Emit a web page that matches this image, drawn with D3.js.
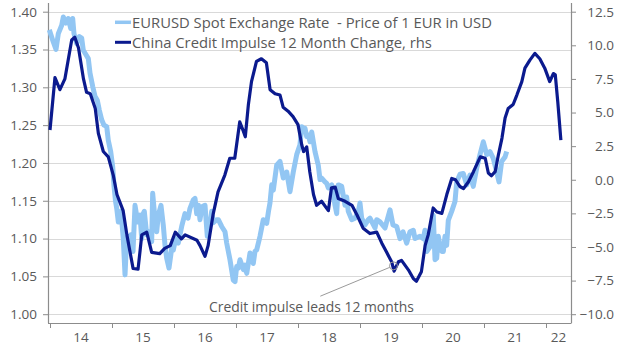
<!DOCTYPE html>
<html>
<head>
<meta charset="utf-8">
<script src="https://cdn.jsdelivr.net/npm/d3@7"></script>
<style>
  html, body { margin: 0; padding: 0; background: #ffffff; }
  svg { display: block; }
  text { font-family: "Open Sans", "Noto Sans", sans-serif; fill: #595959; white-space: pre; }
</style>
</head>
<body>
<svg id="chart" width="620" height="351"></svg>
<script>
// ---------------- DATA ----------------
const seriesNames = ["EURUSD Spot Exchange Rate  - Price of 1 EUR in USD", "China Credit Impulse 12 Month Change, rhs"];

const leftTicks = [1.00, 1.05, 1.10, 1.15, 1.20, 1.25, 1.30, 1.35, 1.40];
const rightTicks = [-10.0, -7.5, -5.0, -2.5, 0.0, 2.5, 5.0, 7.5, 10.0, 12.5];
const yearTicks = [2014, 2015, 2016, 2017, 2018, 2019, 2020, 2021, 2022];
const yearLabels = ["14", "15", "16", "17", "18", "19", "20", "21", "22"];

// EURUSD spot (left axis), decimal years
const eurDates = [
  2013.989, 2014.053, 2014.097, 2014.134, 2014.189, 2014.215, 2014.258, 2014.295, 2014.334, 2014.366,
  2014.387, 2014.431, 2014.473, 2014.511, 2014.537, 2014.581, 2014.618, 2014.645, 2014.689, 2014.726,
  2014.763, 2014.795, 2014.834, 2014.871, 2014.915, 2014.940, 2014.979, 2015.011, 2015.032, 2015.056,
  2015.076, 2015.102, 2015.129, 2015.145, 2015.182, 2015.210, 2015.237, 2015.263, 2015.282, 2015.306,
  2015.339, 2015.371, 2015.415, 2015.452, 2015.479, 2015.505, 2015.521, 2015.560, 2015.597, 2015.640,
  2015.656, 2015.682, 2015.721, 2015.747, 2015.790, 2015.827, 2015.855, 2015.882, 2015.919, 2015.963,
  2015.989, 2016.027, 2016.069, 2016.124, 2016.177, 2016.226, 2016.258, 2016.311, 2016.339, 2016.366,
  2016.395, 2016.419, 2016.452, 2016.500, 2016.537, 2016.581, 2016.608, 2016.634, 2016.689, 2016.715,
  2016.769, 2016.823, 2016.850, 2016.903, 2016.956, 2016.984, 2017.011, 2017.037, 2017.065, 2017.118,
  2017.145, 2017.173, 2017.226, 2017.279, 2017.306, 2017.334, 2017.387, 2017.440, 2017.495, 2017.524,
  2017.548, 2017.576, 2017.602, 2017.656, 2017.710, 2017.763, 2017.818, 2017.871, 2017.924, 2017.979,
  2018.032, 2018.060, 2018.085, 2018.113, 2018.140, 2018.166, 2018.194, 2018.221, 2018.274, 2018.327,
  2018.355, 2018.382, 2018.435, 2018.463, 2018.489, 2018.544, 2018.569, 2018.597, 2018.624, 2018.650,
  2018.705, 2018.758, 2018.785, 2018.811, 2018.866, 2018.919, 2018.973, 2019.000, 2019.027, 2019.081,
  2019.134, 2019.161, 2019.242, 2019.269, 2019.323, 2019.403, 2019.484, 2019.532, 2019.592, 2019.645,
  2019.694, 2019.753, 2019.806, 2019.860, 2019.887, 2019.968, 2020.021, 2020.048, 2020.076, 2020.129,
  2020.182, 2020.210, 2020.237, 2020.263, 2020.290, 2020.318, 2020.344, 2020.371, 2020.398, 2020.424,
  2020.479, 2020.532, 2020.560, 2020.613, 2020.666, 2020.721, 2020.774, 2020.827, 2020.882, 2020.935,
  2020.989, 2021.044, 2021.097, 2021.150, 2021.205, 2021.242, 2021.285, 2021.339, 2021.366
];
const eurValues = [
  1.376, 1.360, 1.350, 1.371, 1.382, 1.393, 1.385, 1.391, 1.378, 1.391,
  1.371, 1.358, 1.367, 1.365, 1.349, 1.343, 1.338, 1.319, 1.301, 1.288,
  1.283, 1.270, 1.257, 1.250, 1.248, 1.230, 1.215, 1.195, 1.170, 1.150,
  1.140, 1.122, 1.127, 1.136, 1.100, 1.052, 1.100, 1.103, 1.087, 1.105,
  1.083, 1.144, 1.122, 1.131, 1.100, 1.133, 1.136, 1.105, 1.109, 1.096,
  1.160, 1.136, 1.109, 1.131, 1.144, 1.118, 1.091, 1.074, 1.061, 1.087,
  1.085, 1.100, 1.094, 1.116, 1.133, 1.127, 1.140, 1.151, 1.153, 1.133,
  1.144, 1.125, 1.142, 1.144, 1.103, 1.118, 1.136, 1.121, 1.125, 1.125,
  1.116, 1.109, 1.094, 1.072, 1.045, 1.043, 1.063, 1.061, 1.072, 1.059,
  1.065, 1.054, 1.081, 1.067, 1.083, 1.085, 1.103, 1.125, 1.120, 1.136,
  1.147, 1.171, 1.164, 1.197, 1.202, 1.180, 1.188, 1.162, 1.188, 1.211,
  1.224, 1.248, 1.246, 1.246, 1.235, 1.237, 1.228, 1.241, 1.215, 1.197,
  1.178, 1.180, 1.175, 1.173, 1.167, 1.171, 1.160, 1.144, 1.133, 1.171,
  1.169, 1.144, 1.155, 1.136, 1.125, 1.127, 1.136, 1.147, 1.127, 1.118,
  1.125, 1.127, 1.114, 1.125, 1.122, 1.114, 1.138, 1.118, 1.116, 1.100,
  1.109, 1.094, 1.109, 1.111, 1.100, 1.103, 1.100, 1.111, 1.083, 1.089,
  1.131, 1.072, 1.074, 1.103, 1.091, 1.083, 1.083, 1.103, 1.091, 1.124,
  1.136, 1.149, 1.175, 1.185, 1.186, 1.171, 1.184, 1.169, 1.193, 1.211,
  1.228, 1.211, 1.215, 1.206, 1.188, 1.175, 1.202, 1.208, 1.215
];

// China credit impulse 12m change (right axis), shifted forward 12 months
const ciDates = [
  2014.00, 2014.08, 2014.16, 2014.24, 2014.35, 2014.40, 2014.46, 2014.54, 2014.59, 2014.65,
  2014.73, 2014.78, 2014.86, 2014.94, 2015.02, 2015.08, 2015.18, 2015.24, 2015.31, 2015.34,
  2015.42, 2015.45, 2015.48, 2015.56, 2015.64, 2015.77, 2015.85, 2015.94, 2016.02, 2016.12,
  2016.18, 2016.37, 2016.42, 2016.50, 2016.55, 2016.63, 2016.71, 2016.82, 2016.90, 2016.98,
  2017.06, 2017.12, 2017.15, 2017.20, 2017.25, 2017.33, 2017.41, 2017.49, 2017.55, 2017.63,
  2017.71, 2017.76, 2017.84, 2017.92, 2018.00, 2018.06, 2018.09, 2018.14, 2018.19, 2018.25,
  2018.30, 2018.38, 2018.49, 2018.54, 2018.60, 2018.65, 2018.76, 2018.87, 2018.95, 2019.05,
  2019.16, 2019.27, 2019.35, 2019.43, 2019.51, 2019.55, 2019.62, 2019.67, 2019.78, 2019.86,
  2019.91, 2019.99, 2020.05, 2020.10, 2020.18, 2020.24, 2020.32, 2020.40, 2020.48, 2020.54,
  2020.61, 2020.67, 2020.75, 2020.83, 2020.94, 2021.02, 2021.07, 2021.12, 2021.18, 2021.23,
  2021.29, 2021.34, 2021.39, 2021.47, 2021.53, 2021.61, 2021.66, 2021.74, 2021.82, 2021.90,
  2021.98, 2022.06, 2022.12, 2022.15, 2022.19, 2022.24
];
const ciValues = [
  3.7, 7.6, 6.7, 7.5, 10.4, 10.6, 9.8, 7.5, 6.5, 6.4,
  5.3, 3.45, 2.1, 1.7, 0.35, -1.1, -2.3, -4.1, -5.85, -6.6,
  -6.65, -5.4, -4.1, -3.9, -5.4, -5.5, -5.1, -4.9, -3.9, -4.4,
  -4.1, -4.5, -4.9, -5.7, -4.9, -2.6, -0.9, 0.35, 1.6, 1.6,
  4.3, 3.6, 3.2, 5.6, 7.3, 8.8, 9.0, 8.7, 6.7, 6.4,
  6.3, 5.4, 5.1, 4.7, 4.1, 2.6, 2.1, 2.45, 0.6, -1.1,
  -1.9, -1.6, -2.3, -0.6, -0.55, -1.4, -1.6, -1.9, -2.6, -3.6,
  -4.0, -3.9, -4.7, -5.4, -6.1, -6.8, -6.1, -6.0, -6.7, -7.35,
  -7.55, -6.85, -4.9, -4.1, -2.1, -2.4, -2.5, -1.1, 0.1, 0.0,
  -0.5, -0.65, -0.15, 0.6, 1.7, 1.6, 0.5, 0.3, 0.6, 1.8,
  3.1, 4.6, 5.3, 5.6, 6.3, 7.3, 8.3, 8.9, 9.4, 9.0,
  8.3, 7.3, 7.9, 7.8, 5.8, 2.95
];

// annotation
const annText = "Credit impulse leads 12 months";
const annPoint = [2019.54, -6.4];      // circled point (date, rhs value)
const annLineStart = [2018.36, -8.66]; // leader line end near label (date, rhs value)

// ---------------- CHART ----------------
const svg = d3.select("#chart");
const W = 620, H = 351;
svg.append("rect").attr("width", W).attr("height", H).attr("fill", "#ffffff");

const plotLeft = 48, plotRight = 571, plotTop = 3, plotBottom = 323;

const x = d3.scaleLinear().domain([2014, 2022]).range([50, 546]);
const yL = d3.scaleLinear().domain([1.00, 1.40]).range([314.2, 11.7]);
const yR = d3.scaleLinear().domain([-10, 12.5]).range([314.2, 11.7]);

// gridlines (left axis)
svg.append("g").selectAll("line").data(leftTicks).join("line")
  .attr("x1", plotLeft).attr("x2", plotRight)
  .attr("y1", d => Math.round(yL(d)) + 0.5).attr("y2", d => Math.round(yL(d)) + 0.5)
  .attr("stroke", "#d9d9d9").attr("stroke-width", 1);

const axisColor = "#8c8c8c";

// left axis
const gL = svg.append("g").attr("transform", `translate(${plotLeft},0)`)
  .call(d3.axisLeft(yL).tickValues(leftTicks).tickSize(5).tickPadding(6).tickFormat(d3.format(".2f")));
gL.select(".domain").remove();
gL.selectAll(".tick line").attr("stroke", axisColor);
gL.selectAll(".tick text").style("font-size", "13.5px").attr("fill", "#595959")
  .style("font-family", '"Open Sans", sans-serif');

// right axis
const gR = svg.append("g").attr("transform", `translate(${plotRight},0)`)
  .call(d3.axisRight(yR).tickValues(rightTicks).tickSize(5).tickPadding(5).tickFormat(d3.format(".1f")));
gR.select(".domain").remove();
gR.selectAll(".tick line").attr("stroke", axisColor);
gR.selectAll(".tick text").style("font-size", "13.5px").attr("fill", "#595959")
  .style("font-family", '"Open Sans", sans-serif')
  .attr("text-anchor", "end").attr("x", 43);

// bottom axis: ticks at year boundaries
const gB = svg.append("g").attr("transform", `translate(0,${plotBottom})`)
  .call(d3.axisBottom(x).tickValues(yearTicks).tickSize(5).tickFormat(""));
gB.select(".domain").remove();
gB.selectAll(".tick line").attr("stroke", axisColor);

// bottom axis labels centered in each year (last one centered in visible part)
const xEnd = x.invert(plotRight);
svg.append("g").selectAll("text").data(yearTicks).join("text")
  .attr("x", (d, i) => x(i === yearTicks.length - 1 ? (d + xEnd) / 2 : d + 0.5))
  .attr("y", 342)
  .attr("text-anchor", "middle")
  .style("font-size", "13.5px")
  .text((d, i) => yearLabels[i]);

// axis lines
svg.append("line").attr("x1", plotLeft + 0.5).attr("x2", plotLeft + 0.5).attr("y1", plotTop).attr("y2", plotBottom)
  .attr("stroke", axisColor).attr("stroke-width", 1.2);
svg.append("line").attr("x1", plotRight + 0.5).attr("x2", plotRight + 0.5).attr("y1", plotTop).attr("y2", plotBottom)
  .attr("stroke", axisColor).attr("stroke-width", 1.2);
svg.append("line").attr("x1", plotLeft).attr("x2", plotRight + 0.5).attr("y1", plotBottom + 0.5).attr("y2", plotBottom + 0.5)
  .attr("stroke", axisColor).attr("stroke-width", 1.2);

const lightBlue = "#92c6f3";
const navy = "#0b1a8e";

// EURUSD line
const eurData = eurDates.map((d, i) => [d, eurValues[i]]);
svg.append("path").datum(eurData)
  .attr("fill", "none").attr("stroke", lightBlue).attr("stroke-width", 5)
  .attr("stroke-linejoin", "round")
  .attr("d", d3.line().x(d => x(d[0])).y(d => yL(d[1])));

// Credit impulse line
const ciData = ciDates.map((d, i) => [d, ciValues[i]]);
svg.append("path").datum(ciData)
  .attr("fill", "none").attr("stroke", navy).attr("stroke-width", 3.2)
  .attr("stroke-linejoin", "round")
  .attr("d", d3.line().x(d => x(d[0])).y(d => yR(d[1])));

// annotation
const cx = x(annPoint[0]), cy = yR(annPoint[1]);
const lx = x(annLineStart[0]), ly = yR(annLineStart[1]);
const ang = Math.atan2(ly - cy, lx - cx);
svg.append("line")
  .attr("x1", lx).attr("y1", ly)
  .attr("x2", cx + 4 * Math.cos(ang)).attr("y2", cy + 4 * Math.sin(ang))
  .attr("stroke", "#9a9a9a").attr("stroke-width", 1);
svg.append("circle").attr("cx", cx).attr("cy", cy).attr("r", 4)
  .attr("fill", "none").attr("stroke", "#9a9a9a").attr("stroke-width", 1);
svg.append("text").attr("x", 209).attr("y", 311.5)
  .style("font-size", "13.9px").text(annText);

// legend
const legend = svg.append("g");
const legItems = [{ name: seriesNames[0], color: lightBlue, w: 3.5, y: 22.3 },
                  { name: seriesNames[1], color: navy, w: 3, y: 42.3 }];
legItems.forEach(it => {
  legend.append("line").attr("x1", 115).attr("x2", 131).attr("y1", it.y).attr("y2", it.y)
    .attr("stroke", it.color).attr("stroke-width", it.w);
  legend.append("text").attr("x", 132).attr("y", it.y + 5.2)
    .style("font-size", "14.8px").text(it.name);
});
</script>
</body>
</html>
